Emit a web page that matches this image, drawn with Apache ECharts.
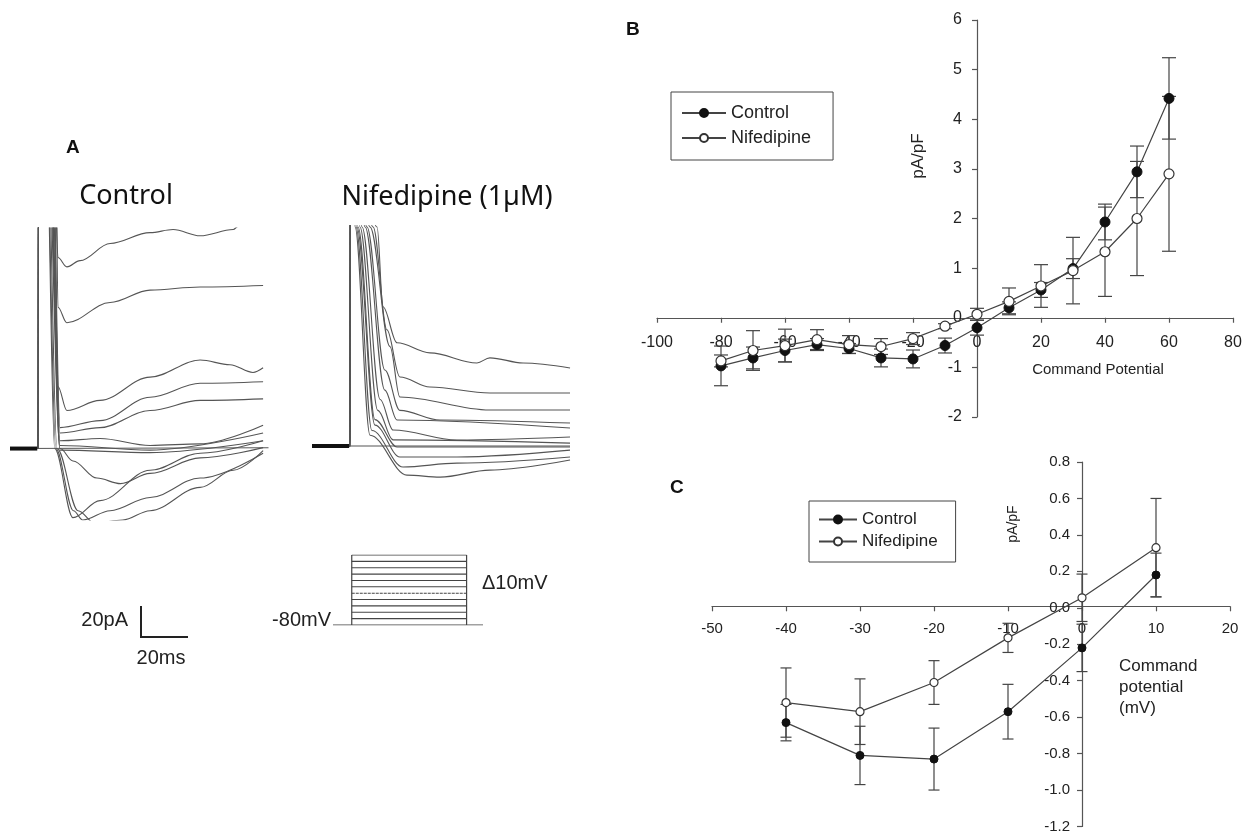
<!DOCTYPE html>
<html><head><meta charset="utf-8">
<script src="https://cdn.jsdelivr.net/npm/echarts@6/dist/echarts.min.js"></script>
<style>html,body{margin:0;padding:0;background:#fff}#c{width:1248px;height:834px}</style>
</head><body><div id="c"></div>
<script>
// ---------- Panel B : I-V curve (pA/pF vs command potential, mV) ----------
const potentialsB = [-80,-70,-60,-50,-40,-30,-20,-10,0,10,20,30,40,50,60];
const controlB    = [-0.97,-0.81,-0.66,-0.54,-0.62,-0.81,-0.83,-0.56,-0.20,0.20,0.56,0.99,1.93,2.94,4.42];
const controlBErr = [0.40,0.22,0.23,0.12,0.10,0.18,0.18,0.15,0.15,0.12,0.15,0.20,0.36,0.52,0.82];
const nifB        = [-0.87,-0.66,-0.56,-0.44,-0.54,-0.58,-0.42,-0.17,0.07,0.33,0.64,0.95,1.33,2.00,2.90];
const nifBErr     = [0.12,0.40,0.33,0.20,0.18,0.16,0.12,0.05,0.12,0.27,0.43,0.67,0.90,1.15,1.56];

// ---------- Panel C : I-V curve, -40..10 mV ----------
const potentialsC = [-40,-30,-20,-10,0,10];
const controlC    = [-0.63,-0.81,-0.83,-0.57,-0.22,0.18];
const controlCErr = [0.10,0.16,0.17,0.15,0.13,0.12];
const nifC        = [-0.52,-0.57,-0.41,-0.165,0.055,0.33];
const nifCErr     = [0.19,0.18,0.12,0.08,0.13,0.27];

// ---------- Panel A : current traces [time ms, current pA] ----------
const controlTraces = [
  [[0,0],[12,0],[12.2,250],[19.5,150],[20.4,123],[24.2,117],[29.8,121],[42.6,132],[59.6,139],[69.4,141],[80.9,137],[95,141],[97,143],[110,146]],
  [[0,0],[12,0],[12.2,250],[19.5,200],[20.4,91],[24.2,81],[42.6,94],[59.6,102],[80.9,104],[107.7,105]],
  [[0,0],[12,0],[12.2,250],[18.5,200],[20.4,40],[24.2,24.5],[38.3,31],[59.6,46],[80.9,57],[93.6,54],[103.4,49],[107.7,52]],
  [[0,0],[12,0],[12.2,250],[18,200],[21.3,13.5],[38.3,18],[59.6,33],[80.9,42],[107.7,43]],
  [[0,0],[12,0],[12.2,250],[17.5,200],[21.3,10],[38.3,13.5],[59.6,24.5],[80.9,31],[107.7,32]],
  [[0,0],[12,0],[12.2,250],[17,200],[21.3,5],[38.3,6.5],[59.6,2],[80.9,3],[107.7,15]],
  [[0,0],[12,0],[12.2,250],[16.8,200],[21.3,2],[59.6,-1],[107.7,10]],
  [[0,0],[12,0],[12.2,250],[16.5,200],[21.3,-1],[59.6,-2.6],[107.7,5]],
  [[0,0],[110,0.5]],
  [[0,0],[12,0],[12.2,250],[16,200],[21.3,0],[26.8,-8],[37,-19],[47,-22.6],[59.6,-16],[80.9,-6],[107.7,0.6]],
  [[0,0],[12,0],[12.2,250],[15.5,200],[19,0],[26.8,-44.5],[38.3,-33.5],[59.6,-14],[80.9,-3],[107.7,5]],
  [[0,0],[12,0],[12.2,250],[15.5,200],[19.5,0],[27,-40],[31,-46],[42.6,-40],[59.6,-31.5],[80.9,-19],[107.7,-3]],
  [[0,0],[12,0],[12.2,250],[16,200],[20,0],[29,-40],[36,-48],[48,-46],[59.6,-40],[80.9,-25],[95,-14],[107.7,-1.3]]
];
const controlHolding = [[0,0],[11.6,0]];
const nifTraces = [
  [[0,0],[16.2,0],[16.4,250],[27.7,141],[30.2,89.7],[36.2,66.5],[50.2,60],[70.2,53.5],[75.7,56.8],[89.8,53.5],[109.8,50.3]],
  [[0,0],[16.2,0],[16.4,250],[26,141],[31.9,74.8],[37.4,44.5],[50.2,38],[75.7,34.2],[109.8,34.2]],
  [[0,0],[16.2,0],[16.4,250],[24.7,141],[33.2,64],[37.4,31.6],[75.7,23.2],[109.8,23.2]],
  [[0,0],[16.2,0],[16.4,250],[23.4,141],[31,49],[37.4,23],[54.5,16.8],[109.8,14.8]],
  [[0,0],[16.2,0],[16.4,250],[22.6,141],[31,36],[36.2,16.8],[109.8,11.6]],
  [[0,0],[16.2,0],[16.4,250],[21.3,141],[29,30],[34.5,10.3],[61.7,3.9],[109.8,5.8]],
  [[0,0],[16.2,0],[16.4,250],[20.4,141],[28,23],[34.5,4],[109.8,1.9]],
  [[0,0],[16.2,0],[16.4,250],[19.6,141],[26.8,17],[36.2,-0.6],[109.8,-0.6]],
  [[0,0],[16.2,0],[16.4,250],[19.1,141],[26.8,13.5],[37.4,-7],[61.7,-7],[109.8,-2.6]],
  [[0,0],[16.2,0],[16.4,250],[18.7,141],[25.5,10],[38.7,-13.5],[61.7,-11],[109.8,-7]],
  [[0,0],[16.2,0],[16.4,250],[18.3,141],[24.7,7],[40.4,-18.7],[54.5,-20],[75.7,-15.5],[109.8,-9]],
  [[0,0],[109.8,0]]
];
const nifHolding = [[0,0],[15.8,0]];

// ---------- Panel A : voltage protocol ----------
const holdingPotential = -80;               // mV
const stepPotentials = [-70,-60,-50,-40,-30,-20,-10,0,10,20,30]; // mV
const protocolTimes = [-8, 0, 49, 56];      // ms: start, step on, step off, end
const scaleBarCurrent = 20;                 // pA
const scaleBarTime = 20;                    // ms

const FONT = '"Liberation Sans", Arial, sans-serif';
const TITLE_FONT = '"Noto Sans", "Open Sans", sans-serif';
const INK = '#222';
const AX = '#555';

// axis ranges
const rangeBx = [-100, 80], rangeBy = [-2, 6];
const rangeCx = [-50, 20], rangeCy = [-1.2, 0.8];
const gridB = { left: 657, top: 20, width: 576, height: 397 };
const gridC = { left: 712, top: 462, width: 518, height: 367 };
// shift axis lines so that they cross at (0, 0)
const zeroOffX = (r, h) => -((0 - r[0]) / (r[1] - r[0])) * h;

function errRender(capHalf) {
  return function (params, api) {
    const x = api.value(0), y = api.value(1), e = api.value(2);
    const top = api.coord([x, y + e]), bot = api.coord([x, y - e]);
    const style = { stroke: '#444', lineWidth: 1.2 };
    return { type: 'group', children: [
      { type: 'line', shape: { x1: top[0], y1: top[1], x2: bot[0], y2: bot[1] }, style },
      { type: 'line', shape: { x1: top[0] - capHalf, y1: top[1], x2: top[0] + capHalf, y2: top[1] }, style },
      { type: 'line', shape: { x1: bot[0] - capHalf, y1: bot[1], x2: bot[0] + capHalf, y2: bot[1] }, style }
    ]};
  };
}
const zip = (xs, ys) => xs.map((x, i) => [x, ys[i]]);
const zip3 = (xs, ys, es) => xs.map((x, i) => [x, ys[i], es[i]]);

function valueAxis(gi, o) {
  return Object.assign({
    type: 'value', gridIndex: gi, splitLine: { show: false },
    axisLine: { onZero: false, lineStyle: { color: AX, width: 1.2 } },
    axisTick: { show: true, length: 5, lineStyle: { color: AX, width: 1.2 } }
  }, o);
}
function hiddenAxis(gi, o) {
  return Object.assign({ type: 'value', gridIndex: gi, show: false, splitLine: { show: false } }, o);
}

const series = [];
// Panel B
series.push({ type: 'custom', xAxisIndex: 0, yAxisIndex: 0, renderItem: errRender(7), data: zip3(potentialsB, controlB, controlBErr), z: 1, encode: { x: 0, y: 1 } });
series.push({ type: 'custom', xAxisIndex: 0, yAxisIndex: 0, renderItem: errRender(7), data: zip3(potentialsB, nifB, nifBErr), z: 1, encode: { x: 0, y: 1 } });
series.push({ name: 'Control', type: 'line', xAxisIndex: 0, yAxisIndex: 0, data: zip(potentialsB, controlB), symbol: 'circle', symbolSize: 10,
  lineStyle: { color: '#444', width: 1.2 }, itemStyle: { color: '#111', borderColor: '#111', borderWidth: 1 }, z: 3 });
series.push({ name: 'Nifedipine', type: 'line', xAxisIndex: 0, yAxisIndex: 0, data: zip(potentialsB, nifB), symbol: 'circle', symbolSize: 10,
  lineStyle: { color: '#444', width: 1.2 }, itemStyle: { color: '#fff', borderColor: '#333', borderWidth: 1.2 }, z: 4 });
// Panel C
series.push({ type: 'custom', xAxisIndex: 1, yAxisIndex: 1, renderItem: errRender(5.5), data: zip3(potentialsC, controlC, controlCErr), z: 1, encode: { x: 0, y: 1 } });
series.push({ type: 'custom', xAxisIndex: 1, yAxisIndex: 1, renderItem: errRender(5.5), data: zip3(potentialsC, nifC, nifCErr), z: 1, encode: { x: 0, y: 1 } });
series.push({ name: 'Control', type: 'line', xAxisIndex: 1, yAxisIndex: 1, data: zip(potentialsC, controlC), symbol: 'circle', symbolSize: 8,
  lineStyle: { color: '#444', width: 1.2 }, itemStyle: { color: '#111', borderColor: '#111', borderWidth: 1 }, z: 3 });
series.push({ name: 'Nifedipine', type: 'line', xAxisIndex: 1, yAxisIndex: 1, data: zip(potentialsC, nifC), symbol: 'circle', symbolSize: 8,
  lineStyle: { color: '#444', width: 1.2 }, itemStyle: { color: '#fff', borderColor: '#333', borderWidth: 1.2 }, z: 4 });
// Panel A traces
const traceStyle = { color: '#555', width: 1.1 };
controlTraces.forEach(tr => series.push({ type: 'line', xAxisIndex: 2, yAxisIndex: 2, data: tr, showSymbol: false, symbol: 'none',
  smooth: 0.35, smoothMonotone: 'x', lineStyle: traceStyle, clip: true, silent: true }));
nifTraces.forEach(tr => series.push({ type: 'line', xAxisIndex: 3, yAxisIndex: 3, data: tr, showSymbol: false, symbol: 'none',
  smooth: 0.35, smoothMonotone: 'x', lineStyle: traceStyle, clip: true, silent: true }));
series.push({ type: 'line', xAxisIndex: 2, yAxisIndex: 2, data: controlHolding, symbol: 'none', silent: true, lineStyle: { color: '#111', width: 4 } });
series.push({ type: 'line', xAxisIndex: 3, yAxisIndex: 3, data: nifHolding, symbol: 'none', silent: true, lineStyle: { color: '#111', width: 4 } });
// Voltage protocol
const [tStart, tOn, tOff, tEnd] = protocolTimes;
const vTop = stepPotentials[stepPotentials.length - 1];
const protoStyle = { color: '#444', width: 1.2 };
series.push({ type: 'line', xAxisIndex: 4, yAxisIndex: 4, symbol: 'none', silent: true,
  data: [[tStart, holdingPotential], [tEnd, holdingPotential]], lineStyle: protoStyle });
series.push({ type: 'line', xAxisIndex: 4, yAxisIndex: 4, symbol: 'none', silent: true,
  data: [[tOn, holdingPotential], [tOn, vTop]], lineStyle: protoStyle });
series.push({ type: 'line', xAxisIndex: 4, yAxisIndex: 4, symbol: 'none', silent: true,
  data: [[tOff, holdingPotential], [tOff, vTop]], lineStyle: protoStyle });
stepPotentials.forEach((v, i) => series.push({ type: 'line', xAxisIndex: 4, yAxisIndex: 4, symbol: 'none', silent: true,
  data: [[tOn, v], [tOff, v]], lineStyle: { color: '#444', width: 1.1, type: i === 4 ? [3, 1] : 'solid' } }));

const legendCommon = {
  orient: 'vertical', borderColor: '#444', borderWidth: 1, itemHeight: 10,
  selectedMode: false, data: ['Control', 'Nifedipine']
};

const option = {
  animation: false,
  backgroundColor: '#fff',
  grid: [
    gridB,
    gridC,
    { left: 10, top: 228, width: 258.5, height: 292 },
    { left: 312, top: 225.5, width: 258.5, height: 292 },
    { left: 333, top: 555, width: 150, height: 70 }
  ],
  xAxis: [
    valueAxis(0, { min: rangeBx[0], max: rangeBx[1], interval: 20, position: 'bottom', offset: zeroOffX(rangeBy, gridB.height),
      axisLabel: { color: INK, fontFamily: FONT, fontSize: 16, margin: 17 } }),
    valueAxis(1, { min: rangeCx[0], max: rangeCx[1], interval: 10, position: 'bottom', offset: zeroOffX(rangeCy, gridC.height),
      axisLabel: { color: INK, fontFamily: FONT, fontSize: 15, margin: 15 } }),
    hiddenAxis(2, { min: 0, max: 110 }),
    hiddenAxis(3, { min: 0, max: 110 }),
    hiddenAxis(4, { min: tStart, max: tEnd })
  ],
  yAxis: [
    valueAxis(0, { min: rangeBy[0], max: rangeBy[1], interval: 1, position: 'left', offset: zeroOffX(rangeBx, gridB.width),
      axisLabel: { color: INK, fontFamily: FONT, fontSize: 16, margin: 15 } }),
    valueAxis(1, { min: rangeCy[0], max: rangeCy[1], interval: 0.2, position: 'left', offset: zeroOffX(rangeCx, gridC.width),
      axisLabel: { color: INK, fontFamily: FONT, fontSize: 15, margin: 12, formatter: v => v.toFixed(1) } }),
    hiddenAxis(2, { min: -46, max: 142 }),
    hiddenAxis(3, { min: -46, max: 142 }),
    hiddenAxis(4, { min: holdingPotential, max: vTop })
  ],
  legend: [
    Object.assign({}, legendCommon, { left: 671, top: 92, padding: [12, 22, 13, 10], itemGap: 7, itemWidth: 44,
      textStyle: { fontFamily: FONT, fontSize: 18, color: INK } }),
    Object.assign({}, legendCommon, { left: 809, top: 501, padding: [10, 18, 12, 9], itemGap: 5, itemWidth: 38,
      textStyle: { fontFamily: FONT, fontSize: 17, color: INK } })
  ],
  series: series,
  graphic: [
    { type: 'text', x: 66, y: 148, style: { text: 'A', font: 'bold 19px ' + FONT, fill: '#111', verticalAlign: 'middle' } },
    { type: 'text', x: 626, y: 30, style: { text: 'B', font: 'bold 19px ' + FONT, fill: '#111', verticalAlign: 'middle' } },
    { type: 'text', x: 670, y: 488, style: { text: 'C', font: 'bold 19px ' + FONT, fill: '#111', verticalAlign: 'middle' } },
    { type: 'text', x: 126, y: 196, style: { text: 'Control', font: '27px ' + TITLE_FONT, fill: '#111', align: 'center', verticalAlign: 'middle' } },
    { type: 'text', x: 447, y: 197, style: { text: 'Nifedipine (1\u00B5M)', font: '27px ' + TITLE_FONT, fill: '#111', align: 'center', verticalAlign: 'middle' } },
    { type: 'text', x: 128, y: 620, style: { text: '20pA', font: '20px ' + FONT, fill: INK, align: 'right', verticalAlign: 'middle' } },
    { type: 'text', x: 161, y: 658, style: { text: '20ms', font: '20px ' + FONT, fill: INK, align: 'center', verticalAlign: 'middle' } },
    { type: 'text', x: 331, y: 620, style: { text: '-80mV', font: '20px ' + FONT, fill: INK, align: 'right', verticalAlign: 'middle' } },
    { type: 'text', x: 482, y: 583, style: { text: '\u039410mV', font: '20px ' + FONT, fill: INK, align: 'left', verticalAlign: 'middle' } },
    { type: 'text', x: 918, y: 156, rotation: Math.PI / 2, style: { text: 'pA/pF', font: '17px ' + FONT, fill: INK, align: 'center', verticalAlign: 'middle' } },
    { type: 'text', x: 1098, y: 370, style: { text: 'Command Potential', font: '15px ' + FONT, fill: INK, align: 'center', verticalAlign: 'middle' } },
    { type: 'text', x: 1013, y: 524, rotation: Math.PI / 2, style: { text: 'pA/pF', font: '14px ' + FONT, fill: INK, align: 'center', verticalAlign: 'middle' } },
    { type: 'text', x: 1119, y: 656, style: { text: 'Command\npotential\n(mV)', font: '17px ' + FONT, lineHeight: 21, fill: INK, align: 'left', verticalAlign: 'top' } }
  ]
};

const chart = echarts.init(document.getElementById('c'), null, { renderer: 'canvas' });
chart.setOption(option);

// Scale bar sized from the trace axes (20 pA vertical, 20 ms horizontal)
const p0 = chart.convertToPixel({ gridIndex: 2 }, [0, 0]);
const p1 = chart.convertToPixel({ gridIndex: 2 }, [scaleBarTime, scaleBarCurrent]);
const barW = p1[0] - p0[0], barH = p0[1] - p1[1];
const bx = 141, by = 637;
chart.setOption({ graphic: option.graphic.concat([
  { type: 'polyline', shape: { points: [[bx, by - barH], [bx, by], [bx + barW, by]] }, style: { stroke: '#222', lineWidth: 2, fill: null } }
]) });
</script></body></html>
